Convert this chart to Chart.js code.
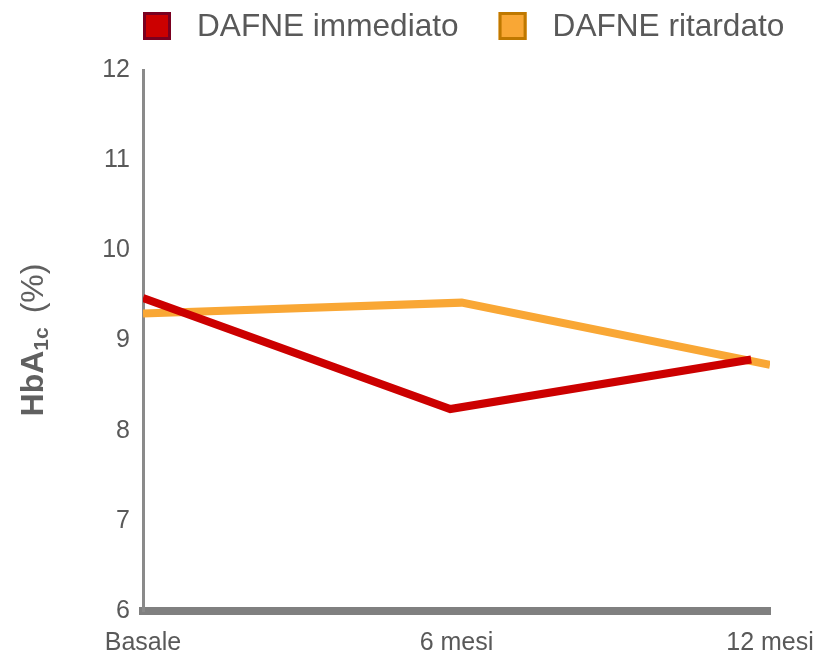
<!DOCTYPE html>
<html>
<head>
<meta charset="utf-8">
<script src="https://cdn.jsdelivr.net/npm/chart.js@4/dist/chart.umd.min.js"></script>
<style>
  html, body { margin: 0; padding: 0; background: #ffffff; }
  #wrap { width: 817px; height: 655px; }
</style>
</head>
<body>
<div id="wrap"><canvas id="c" width="817" height="655"></canvas></div>
<script>
// HbA1c (%) over follow-up, immediate vs delayed DAFNE course
const seriesNames = ['DAFNE immediato', 'DAFNE ritardato'];
const tickMonths = [0, 6, 12];
const tickLabels = ['Basale', '6 mesi', '12 mesi'];

const immediatoMonths = [0, 5.88, 11.64];
const immediatoHbA1c  = [9.47, 8.24, 8.79];
const ritardatoMonths = [0, 6.1, 12];
const ritardatoHbA1c  = [9.30, 9.42, 8.73];

const yTicks = [6, 7, 8, 9, 10, 11, 12];

const textGray = '#595959';
const axisGray = '#8a8a8a';

function points(xs, ys) {
  return xs.map((x, i) => ({ x: x, y: ys[i] }));
}

// Legend drawn as boxes with a darker outline, laid out left to right
const boxLegend = {
  id: 'boxLegend',
  afterDraw(chart) {
    const ctx = chart.ctx;
    const size = 28, gapText = 26, gapItem = 40;
    let x = 143;
    const top = 12;
    ctx.save();
    ctx.font = '31.6px "Liberation Sans", Arial, sans-serif';
    ctx.textBaseline = 'middle';
    ctx.textAlign = 'left';
    chart.data.datasets.forEach(ds => {
      ctx.fillStyle = ds.legendFill;
      ctx.fillRect(x, top, size, size);
      ctx.lineWidth = 3;
      ctx.strokeStyle = ds.legendEdge;
      ctx.strokeRect(x + 1.5, top + 1.5, size - 3, size - 3);
      ctx.fillStyle = textGray;
      const tx = x + size + gapText;
      ctx.fillText(ds.label, tx, top + size / 2 + 1);
      x = tx + ctx.measureText(ds.label).width + gapItem;
    });
    ctx.restore();
  }
};

// Vertical axis title with a subscript: HbA1c (%)
const yTitle = {
  id: 'yTitle',
  afterDraw(chart) {
    const ctx = chart.ctx;
    const big = 'bold 32px "Liberation Sans", Arial, sans-serif';
    const sub = 'bold 21px "Liberation Sans", Arial, sans-serif';
    const reg = '32px "Liberation Sans", Arial, sans-serif';
    ctx.save();
    ctx.fillStyle = '#606060';
    ctx.textBaseline = 'alphabetic';
    ctx.textAlign = 'left';
    ctx.font = big; const w1 = ctx.measureText('HbA').width;
    ctx.font = sub; const w2 = ctx.measureText('1c').width;
    ctx.font = reg; const w3 = ctx.measureText('(%)').width;
    const gap = 14;
    const total = w1 + w2 + gap + w3;
    ctx.translate(43, 340);
    ctx.rotate(-Math.PI / 2);
    let p = -total / 2;
    ctx.font = big; ctx.fillText('HbA', p, 0); p += w1;
    ctx.font = sub; ctx.fillText('1c', p, 5); p += w2 + gap;
    ctx.font = reg; ctx.fillText('(%)', p, 0);
    ctx.restore();
  }
};

new Chart(document.getElementById('c'), {
  type: 'line',
  data: {
    datasets: [
      {
        label: seriesNames[0],
        data: points(immediatoMonths, immediatoHbA1c),
        borderColor: '#cc0000',
        legendFill: '#cc0000',
        legendEdge: '#7a0020',
        borderWidth: 8,
        borderCapStyle: 'butt',
        borderJoinStyle: 'miter',
        pointRadius: 0,
        tension: 0,
        fill: false
      },
      {
        label: seriesNames[1],
        data: points(ritardatoMonths, ritardatoHbA1c),
        borderColor: '#f9a735',
        legendFill: '#f9a735',
        legendEdge: '#bf7800',
        borderWidth: 8,
        borderCapStyle: 'butt',
        borderJoinStyle: 'miter',
        pointRadius: 0,
        tension: 0,
        fill: false
      }
    ]
  },
  options: {
    responsive: false,
    animation: false,
    layout: { padding: { top: 70, left: 0, right: 47, bottom: 0 } },
    plugins: {
      legend: { display: false },
      tooltip: { enabled: false }
    },
    scales: {
      x: {
        type: 'linear',
        min: 0,
        max: 12,
        afterBuildTicks: axis => { axis.ticks = tickMonths.map(v => ({ value: v })); },
        afterFit: axis => {
          axis.height = 44;
          axis.paddingLeft = 0;
          axis.paddingRight = 0;
        },
        grid: { display: false, drawTicks: false },
        border: { display: true, color: '#808080', width: 8 },
        ticks: {
          padding: 17,
          maxRotation: 0,
          autoSkip: false,
          color: textGray,
          font: { family: '"Liberation Sans", Arial, sans-serif', size: 25 },
          callback: v => tickLabels[tickMonths.indexOf(v)]
        }
      },
      y: {
        min: 6,
        max: 12,
        afterBuildTicks: axis => { axis.ticks = yTicks.map(v => ({ value: v })); },
        afterFit: axis => { axis.width = 143; },
        grid: { display: false, drawTicks: false },
        border: { display: true, color: axisGray, width: 3 },
        ticks: {
          padding: 13,
          color: textGray,
          font: { family: '"Liberation Sans", Arial, sans-serif', size: 25 }
        }
      }
    }
  },
  plugins: [boxLegend, yTitle]
});
</script>
</body>
</html>
